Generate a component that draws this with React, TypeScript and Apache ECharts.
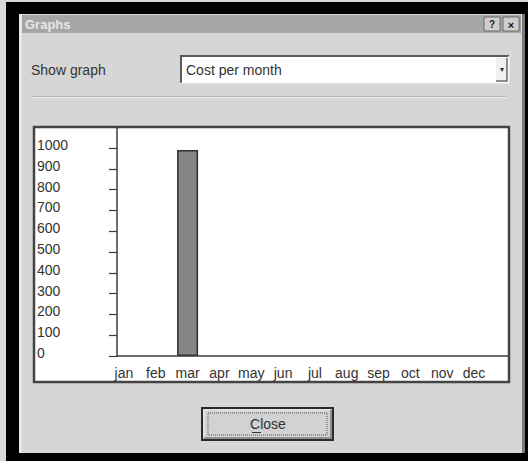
import React, { useEffect, useRef } from "react";
import * as echarts from "echarts";

const months = ["jan", "feb", "mar", "apr", "may", "jun", "jul", "aug", "sep", "oct", "nov", "dec"];
const costPerMonth = [0, 0, 990, 0, 0, 0, 0, 0, 0, 0, 0, 0];
const yMin = 0;
const yMax = 1000;
const yStep = 100;
const dialogTitle = "Graphs";
const showGraphLabel = "Show graph";
const selectedGraph = "Cost per month";
const closeLabel = "Close";

const FONT = "'Liberation Sans', Arial, sans-serif";

export default function App() {
  const ref = useRef<HTMLDivElement>(null);
  useEffect(() => {
    if (!ref.current) return;
    const chart = echarts.init(ref.current, undefined, { renderer: "svg" });
    const dark = "#3c3c3c";
    const body = "#d6d6d6";
    const txt = "#333333";
    const option: any = {
      animation: false,
      backgroundColor: "#000000",
      textStyle: { fontFamily: FONT },
      graphic: [
        { type: "rect", z: 0, shape: { x: 0, y: 0, width: 6, height: 461 }, style: { fill: "#d8d8d8" } },
        { type: "rect", z: 0, shape: { x: 0, y: 0, width: 528, height: 2 }, style: { fill: "#d8d8d8" } },
        { type: "rect", z: 0, shape: { x: 19, y: 14, width: 506, height: 439 }, style: { fill: body } },
        { type: "rect", z: 0, shape: { x: 522, y: 14, width: 3, height: 439 }, style: { fill: "#7a7a7a" } },
        { type: "rect", z: 0, shape: { x: 19, y: 14, width: 3, height: 439 }, style: { fill: "#e8e8e8" } },
        { type: "rect", z: 0, shape: { x: 22, y: 15, width: 499, height: 18 }, style: { fill: "#a6a6a6" } },
        { type: "text", z: 1, x: 25, y: 24, style: { text: dialogTitle, fill: "#e6e6e6", font: `bold 13px ${FONT}`, verticalAlign: "middle" } },
        { type: "rect", z: 1, shape: { x: 484, y: 17, width: 16, height: 14 }, style: { fill: "#cfcfcf", stroke: "#6a6a6a", lineWidth: 1 } },
        { type: "text", z: 2, x: 492, y: 24.5, style: { text: "?", fill: "#202020", font: `bold 10px ${FONT}`, align: "center", verticalAlign: "middle" } },
        { type: "rect", z: 1, shape: { x: 503, y: 17, width: 16, height: 14 }, style: { fill: "#cfcfcf", stroke: "#6a6a6a", lineWidth: 1 } },
        { type: "text", z: 2, x: 511, y: 24.5, style: { text: "×", fill: "#202020", font: `bold 11px ${FONT}`, align: "center", verticalAlign: "middle" } },
        { type: "text", z: 1, x: 31, y: 70, style: { text: showGraphLabel, fill: txt, font: `14px ${FONT}`, verticalAlign: "middle" } },
        { type: "rect", z: 1, shape: { x: 181, y: 56, width: 328, height: 27 }, style: { fill: "#ffffff" } },
        { type: "polyline", z: 2, shape: { points: [[181, 83], [181, 56], [509, 56]] }, style: { stroke: "#5a5a5a", lineWidth: 2, fill: "none" } },
        { type: "polyline", z: 2, shape: { points: [[181, 83], [509, 83], [509, 56]] }, style: { stroke: "#f4f4f4", lineWidth: 1, fill: "none" } },
        { type: "text", z: 2, x: 186, y: 70, style: { text: selectedGraph, fill: txt, font: `14px ${FONT}`, verticalAlign: "middle" } },
        { type: "rect", z: 2, shape: { x: 496, y: 58, width: 11, height: 23 }, style: { fill: "#f0f0f0" } },
        { type: "polyline", z: 3, shape: { points: [[496, 81], [507, 81], [507, 58]] }, style: { stroke: "#6a6a6a", lineWidth: 1.5, fill: "none" } },
        { type: "text", z: 3, x: 501.5, y: 69, style: { text: "▾", fill: "#333333", font: `8px ${FONT}`, align: "center", verticalAlign: "middle" } },
        { type: "line", z: 1, shape: { x1: 32, y1: 96.5, x2: 506, y2: 96.5 }, style: { stroke: "#b4b4b4", lineWidth: 1 } },
        { type: "line", z: 1, shape: { x1: 32, y1: 97.5, x2: 506, y2: 97.5 }, style: { stroke: "#ececec", lineWidth: 1 } },
        { type: "rect", z: 1, shape: { x: 34, y: 127, width: 475, height: 255 }, style: { fill: "#ffffff", stroke: "#444444", lineWidth: 2.5 } },
        { type: "rect", z: 1, shape: { x: 202, y: 408, width: 131, height: 32 }, style: { fill: "#d2d2d2", stroke: "#2a2a2a", lineWidth: 2 } },
        { type: "polyline", z: 2, shape: { points: [[204, 438], [204, 410], [331, 410]] }, style: { stroke: "#f2f2f2", lineWidth: 1, fill: "none" } },
        { type: "polyline", z: 2, shape: { points: [[204, 438], [331, 438], [331, 410]] }, style: { stroke: "#7a7a7a", lineWidth: 1.5, fill: "none" } },
        { type: "rect", z: 2, shape: { x: 208, y: 413, width: 119, height: 22 }, style: { fill: "none", stroke: "#555555", lineWidth: 1, lineDash: [1, 1] } },
        { type: "text", z: 3, x: 268, y: 424, style: { text: closeLabel, fill: txt, font: `14px ${FONT}`, align: "center", verticalAlign: "middle" } },
        { type: "line", z: 3, shape: { x1: 252, y1: 432.5, x2: 261, y2: 432.5 }, style: { stroke: txt, lineWidth: 1 } },
      ],
      grid: [
        { left: 117, top: 128, right: 20, bottom: 105 },
        { left: 117, top: 148, right: 20, bottom: 105 },
        { left: 108, top: 148, width: 382, bottom: 105 },
      ],
      xAxis: [
        {
          gridIndex: 0, type: "value", z: 5,
          axisLine: { show: true, onZero: false, lineStyle: { color: dark, width: 1.5 } },
          axisTick: { show: false }, axisLabel: { show: false }, splitLine: { show: false },
        },
        { gridIndex: 1, type: "value", show: false },
        {
          gridIndex: 2, type: "category", data: months, z: 5,
          axisLine: { show: false }, axisTick: { show: false }, splitLine: { show: false },
          axisLabel: { color: txt, fontSize: 14, fontFamily: FONT, margin: 10, interval: 0 },
        },
      ],
      yAxis: [
        {
          gridIndex: 0, type: "value", z: 5,
          axisLine: { show: true, onZero: false, lineStyle: { color: dark, width: 1.5 } },
          axisTick: { show: false }, axisLabel: { show: false }, splitLine: { show: false },
        },
        {
          gridIndex: 1, type: "value", min: yMin, max: yMax, interval: yStep, z: 5,
          axisLine: { show: false },
          axisTick: { show: true, inside: false, length: 8, lineStyle: { color: dark, width: 1.2 } },
          splitLine: { show: false },
          axisLabel: {
            color: txt, fontSize: 14, fontFamily: FONT, align: "left", margin: 80,
            verticalAlign: "bottom", lineHeight: 6,
            formatter: (v: number) => String(v),
          },
        },
        { gridIndex: 2, type: "value", min: yMin, max: yMax, show: false },
      ],
      series: [
        {
          type: "bar", xAxisIndex: 2, yAxisIndex: 2, z: 4,
          data: costPerMonth.map((v) => (v === 0 ? { value: v, itemStyle: { borderWidth: 0 } } : v)),
          barWidth: 21,
          itemStyle: { color: "#858585", borderColor: "#303030", borderWidth: 1.5 },
        },
      ],
    };
    chart.setOption(option);
    return () => chart.dispose();
  }, []);
  return <div ref={ref} style={{ position: "absolute", left: 0, top: 0, width: 528, height: 461 }} />;
}
